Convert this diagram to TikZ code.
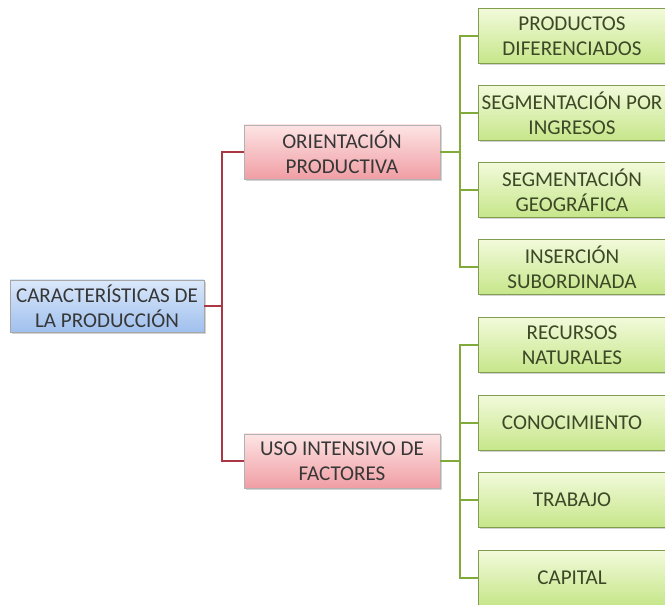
\documentclass[tikz,border=0pt]{standalone}
\usepackage{fontspec}
\setmainfont{Carlito}
\usetikzlibrary{shadows}
\definecolor{lineRed}{RGB}{170,55,68}
\definecolor{lineGreen}{RGB}{130,170,58}
\definecolor{txtGray}{RGB}{55,55,55}
\definecolor{txtGreen}{RGB}{60,72,38}
\definecolor{blueTop}{RGB}{218,232,250}
\definecolor{blueBot}{RGB}{160,192,238}
\definecolor{redTop}{RGB}{253,228,228}
\definecolor{redBot}{RGB}{240,158,164}
\definecolor{greenTop}{RGB}{242,250,218}
\definecolor{greenBot}{RGB}{198,230,138}
\tikzset{
  box/.style={draw, rectangle, align=center, font=\fontsize{15}{17.5}\selectfont,
    minimum height=1.35cm, inner xsep=2pt,
    drop shadow={opacity=0.35, shadow xshift=0.04cm, shadow yshift=-0.05cm}},
  rootbox/.style={box, draw=gray!70, top color=blueTop, bottom color=blueBot, text=txtGray,
    minimum width=4.85cm, minimum height=1.3cm},
  midbox/.style={box, draw=gray!60, top color=redTop, bottom color=redBot, text=txtGray,
    minimum width=4.9cm},
  leafbox/.style={box, draw=lineGreen!70!gray, top color=greenTop, bottom color=greenBot,
    text=txtGreen, minimum width=4.7cm, minimum height=1.375cm},
  redline/.style={draw=lineRed, line width=2pt},
  greenline/.style={draw=lineGreen, line width=2pt}
}
\begin{document}
\begin{tikzpicture}
  \useasboundingbox (0,0) rectangle (16.625,15.125);
  % root
  \node[rootbox] (root) at (2.675, 7.475) {CARACTERÍSTICAS DE\\LA PRODUCCIÓN};
  % second level
  \node[midbox] (ori) at (8.55, 11.325) {ORIENTACIÓN\\PRODUCTIVA};
  \node[midbox] (uso) at (8.55, 3.6) {USO INTENSIVO DE\\FACTORES};
  % leaves
  \node[leafbox] (prod) at (14.3, 14.225) {PRODUCTOS\\DIFERENCIADOS};
  \node[leafbox] (segi) at (14.3, 12.3) {SEGMENTACIÓN POR\\INGRESOS};
  \node[leafbox] (segg) at (14.3, 10.375) {SEGMENTACIÓN\\GEOGRÁFICA};
  \node[leafbox] (ins) at (14.3, 8.45) {INSERCIÓN\\SUBORDINADA};
  \node[leafbox] (rec) at (14.3, 6.5) {RECURSOS\\NATURALES};
  \node[leafbox] (con) at (14.3, 4.55) {CONOCIMIENTO};
  \node[leafbox] (trab) at (14.3, 2.625) {TRABAJO};
  \node[leafbox] (cap) at (14.3, 0.675) {CAPITAL};
  % junctions
  \coordinate (rj) at (5.55, 7.475);
  \coordinate (gj1) at (11.5, 11.325);
  \coordinate (gj2) at (11.5, 3.6);
  % connectors
  \draw[redline] (root.east) -- (rj);
  \draw[redline] (rj) |- (ori.west);
  \draw[redline] (rj) |- (uso.west);
  \draw[greenline] (ori.east) -- (gj1);
  \draw[greenline] (gj1) |- (prod.west);
  \draw[greenline] (gj1) |- (segi.west);
  \draw[greenline] (gj1) |- (segg.west);
  \draw[greenline] (gj1) |- (ins.west);
  \draw[greenline] (uso.east) -- (gj2);
  \draw[greenline] (gj2) |- (rec.west);
  \draw[greenline] (gj2) |- (con.west);
  \draw[greenline] (gj2) |- (trab.west);
  \draw[greenline] (gj2) |- (cap.west);
\end{tikzpicture}
\end{document}
